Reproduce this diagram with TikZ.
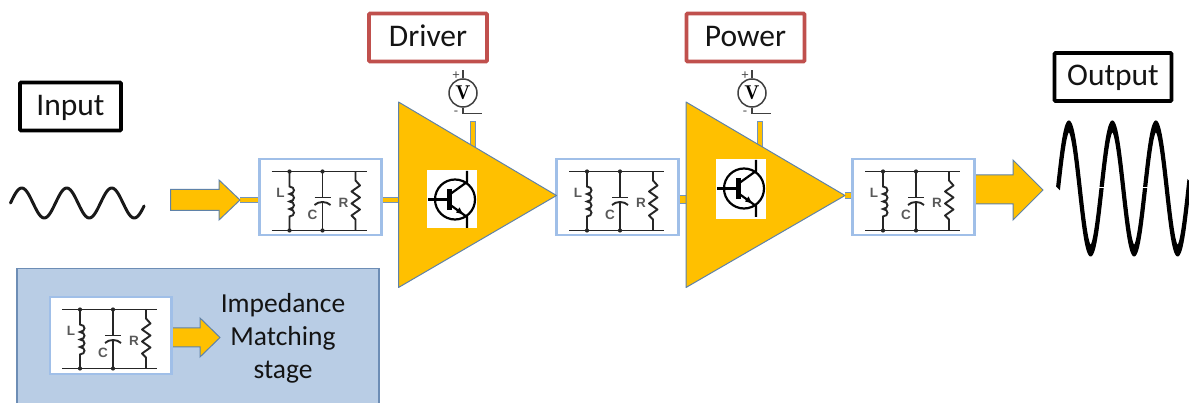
\documentclass[tikz,border=0pt]{standalone}
\usepackage{fontspec}
\setmainfont{Carlito}
\newfontfamily\circfont{Liberation Sans}
\usetikzlibrary{calc}
\definecolor{amber}{HTML}{FFC000}
\definecolor{slateedge}{HTML}{5F82A8}
\definecolor{filtedge}{HTML}{A0BFE8}
\definecolor{legfill}{HTML}{B9CDE5}
\definecolor{legedge}{HTML}{6D8DB5}
\definecolor{redbox}{HTML}{C0504D}
\definecolor{inkdark}{HTML}{262626}
\tikzset{
  tagbox/.style={draw=black,line width=3.6pt,rounded corners=1pt,fill=white,inner sep=0pt,
    minimum height=48pt,text height=18pt,text depth=0pt,font=\fontsize{31.5}{36}\selectfont,text=black!92},
  blacktag/.style={tagbox,draw=black},
  redtag/.style={tagbox,draw=redbox,minimum width=118pt},
  filtbox/.style={draw=filtedge,line width=2pt,fill=white,minimum width=121pt,minimum height=76pt,inner sep=0pt},
  wirel/.style={draw=inkdark,line width=1.9pt},
  circlab/.style={font=\circfont\bfseries\fontsize{13.5}{13.5}\selectfont,text=black!65,inner sep=0pt},
  jdot/.style={fill=inkdark,draw=none},
  bigarrow/.style={fill=amber,draw=slateedge,line width=1pt,line join=miter},
  bar/.style={draw=slateedge!70!filtedge,line width=6.6pt},
  barin/.style={draw=amber,line width=4.6pt},
  widebar/.style={draw=slateedge!70!filtedge,line width=9pt},
  widebarin/.style={draw=amber,line width=7pt},
  amp/.style={fill=amber,draw=slateedge,line width=1pt,line join=round},
  whitepatch/.style={fill=white,draw=none,inner sep=0pt,minimum width=50pt},
  lcr/.pic={
    \draw[wirel] (13,13) -- (108,13);
    \draw[wirel] (13,72) -- (108,72);
    % inductor
    \draw[wirel] (31,13) -- (31,28)
      .. controls (37,28.5) and (37,35) .. (31,35.5)
      .. controls (37,36) and (37,42.5) .. (31,43)
      .. controls (37,43.5) and (37,50) .. (31,50.5)
      .. controls (37,51) and (37,57.5) .. (31,58) -- (31,72);
    % capacitor
    \draw[wirel] (64,13) -- (64,39);
    \draw[wirel] (56,39) -- (72,39);
    \draw[wirel] (56,46.5) .. controls (60,42.5) and (68,42.5) .. (72,46.5);
    \draw[wirel] (64,43.5) -- (64,72);
    % resistor
    \draw[wirel,line join=round] (97,13) -- (97,22) -- (101.5,27) -- (93,33) -- (101.5,39) -- (93,45) -- (101.5,51) -- (93,57) -- (97,61) -- (97,72);
    \foreach \px in {31,64}{
      \fill[jdot] (\px,13) circle (2.1);
      \fill[jdot] (\px,72) circle (2.1);
    }
    \node[circlab] at (22,34) {L};
    \node[circlab] at (54,56) {C};
    \node[circlab] at (85,44) {R};
  },
  bjt/.pic={
    \draw[black,line width=2.2pt] (28,29.5) circle (20);
    \draw[black,line width=2.2pt] (1,29.5) -- (21,29.5);
    \draw[black,line width=5pt] (22,19.5) -- (22,40);
    \draw[black,line width=2.2pt] (22,25) -- (40,12) -- (40,1);
    \draw[black,line width=2.2pt] (22,34) -- (40,47) -- (40,58);
    \fill[black] (36,44.2) -- (29,42.5) -- (32.5,37.5) -- cycle;
  },
  vmeter/.style={circle,draw=black!75,line width=1.5pt,fill=white,minimum size=28pt,inner sep=0pt,
    font=\fontfamily{lmr}\selectfont},
}
\begin{document}
\begin{tikzpicture}[x=1pt,y=-1pt]
\useasboundingbox (0,0) rectangle (1189,403);
\fill[white] (0,0) rectangle (1189,403);

% legend panel
\draw[fill=legfill,draw=legedge,line width=1.2pt] (17,420) -- (17,268.5) -- (379,268.5) -- (379,420);

% tag boxes
\node[blacktag,minimum width=101pt] (input) at (70.5,106.5) {Input};
\node[blacktag,minimum width=117pt] (output) at (1113,77) {Output};
\node[redtag] (driver) at (428,37.5) {Driver};
\node[redtag] (power) at (745.5,37.5) {Power};

% filters
\node[filtbox] (f1) at (320,197.5) {};
\node[filtbox] (f2) at (617.5,197.5) {};
\node[filtbox] (f3) at (913.5,197.5) {};
\node[filtbox] (f4) at (110.5,335.5) {};
\pic at (f1.north west) {lcr};
\pic at (f2.north west) {lcr};
\pic at (f3.north west) {lcr};
\pic at (f4.north west) {lcr};

% amplifier corners
\coordinate (d1) at (398.5,102);
\coordinate (d2) at (398.5,287.5);
\coordinate (d3) at (556.5,195.5);
\coordinate (p1) at (686,102);
\coordinate (p2) at (686,287.5);
\coordinate (p3) at (845,195.5);

% supply meters
\node[vmeter] (vd) at (463,93) {\fontsize{20}{20}\selectfont\bfseries V};
\node[vmeter] (vp) at (752,93) {\fontsize{20}{20}\selectfont\bfseries V};
\foreach \m in {vd,vp}{
  \draw[black!75,line width=1.5pt] (\m.north) -- ++(0,-8);
  \draw[black!75,line width=1.5pt] (\m.south) -- ++(0,6) -- ++(19,0);
  \node[inner sep=0pt,font=\fontsize{14}{14}\selectfont,text=black!70] at ($(\m.center)+(-7,-17)$) {+};
  \node[inner sep=0pt,font=\fontsize{14}{14}\selectfont,text=black!70] at ($(\m.center)+(-7,20)$) {-};
}

% supply stubs
\coordinate (sd) at (473,121);
\coordinate (sp) at (760,121);
\foreach \s in {sd,sp}{
  \fill[slateedge!70!filtedge] ($(\s)+(-3,0)$) rectangle ($(\s)+(3,28)$);
  \fill[amber] ($(\s)+(-2,1)$) rectangle ($(\s)+(2,28)$);
}

% input arrow and its tail
\coordinate (inA) at (170.5,200);
\coordinate (inB) at (240,200);
\draw[bar] (inB) -- (f1.west |- inB);
\draw[barin] (inB) -- (f1.west |- inB);
\draw[bigarrow] (170.5,189.5) -- (219,189.5) -- (219,180) -- (inB) -- (219,220) -- (219,210.5) -- (170.5,210.5) -- cycle;

% connectors between stages
\coordinate (c1) at (381,200);
\coordinate (c2) at (679,199.5);
\coordinate (c3) at (845,195.5);
\draw[bar] (f1.east |- c1) -- (d1 |- c1);
\draw[barin] (f1.east |- c1) -- (d1 |- c1);
\draw[widebar] (f2.east |- c2) -- (p1 |- c2);
\draw[widebarin] (f2.east |- c2) -- (p1 |- c2);
\draw[bar] (d3) -- (f2.west |- d3);
\draw[barin] (d3) -- (f2.west |- d3);
\draw[bar] (p3) -- (f3.west |- p3);
\draw[barin] (p3) -- (f3.west |- p3);
\draw[filtedge,line width=2pt] (f1.north east) -- (f1.south east);
\draw[filtedge,line width=2pt] (f1.north west) -- (f1.south west);
\draw[filtedge,line width=2pt] (f2.north east) -- (f2.south east);
\draw[filtedge,line width=2pt] (f2.north west) -- (f2.south west);
\draw[filtedge,line width=2pt] (f3.north west) -- (f3.south west);

% amplifiers
\draw[amp] (d1) -- (d3) -- (d2) -- cycle;
\draw[amp] (p1) -- (p3) -- (p2) -- cycle;

% transistors
\node[whitepatch,minimum height=58pt,anchor=north west] (q1) at (427,170) {};
\node[whitepatch,minimum height=60pt,anchor=north west] (q2) at (716,159) {};
\pic at (q1.north west) {bjt};
\pic at (q2.north west) {bjt};

% output arrow
\draw[bigarrow] (f3.east |- 0,175) -- (1013,175) -- (1013,160) -- (1043,190) -- (1013,220) -- (1013,204) -- (f3.east |- 0,204);
\draw[filtedge,line width=2pt] (f3.north east) -- (f3.south east);

% legend arrow
\draw[bigarrow] (f4.east |- 0,328) -- (200,328) -- (200,318) -- (220,337.5) -- (200,357) -- (200,347) -- (f4.east |- 0,347);
\draw[filtedge,line width=2pt] (f4.north east) -- (f4.south east);

% legend text
\node[align=center,inner sep=0pt,font=\fontsize{27.5}{33}\selectfont,text=black!92] (legtext) at (283,338) {Impedance\\Matching\\stage};

% input wave
\draw[black!90,line width=3pt,line cap=round] plot[smooth,samples=90,domain=0:2.97,variable=\t] ({10.5+45*\t},{203-15*sin(360*\t)});

% output wave
\begin{scope}[transform canvas={yscale=3}]
\draw[black,line width=4pt] plot[smooth,samples=240,domain=0:3.02,variable=\t] ({1058+43.5*\t},{(188.5-62*sin(360*\t))/3});
\end{scope}
\draw[white,line width=.9pt] (1098,187) -- (1105,187);
\draw[white,line width=.9pt] (1141,187) -- (1148,187);
\end{tikzpicture}
\end{document}
